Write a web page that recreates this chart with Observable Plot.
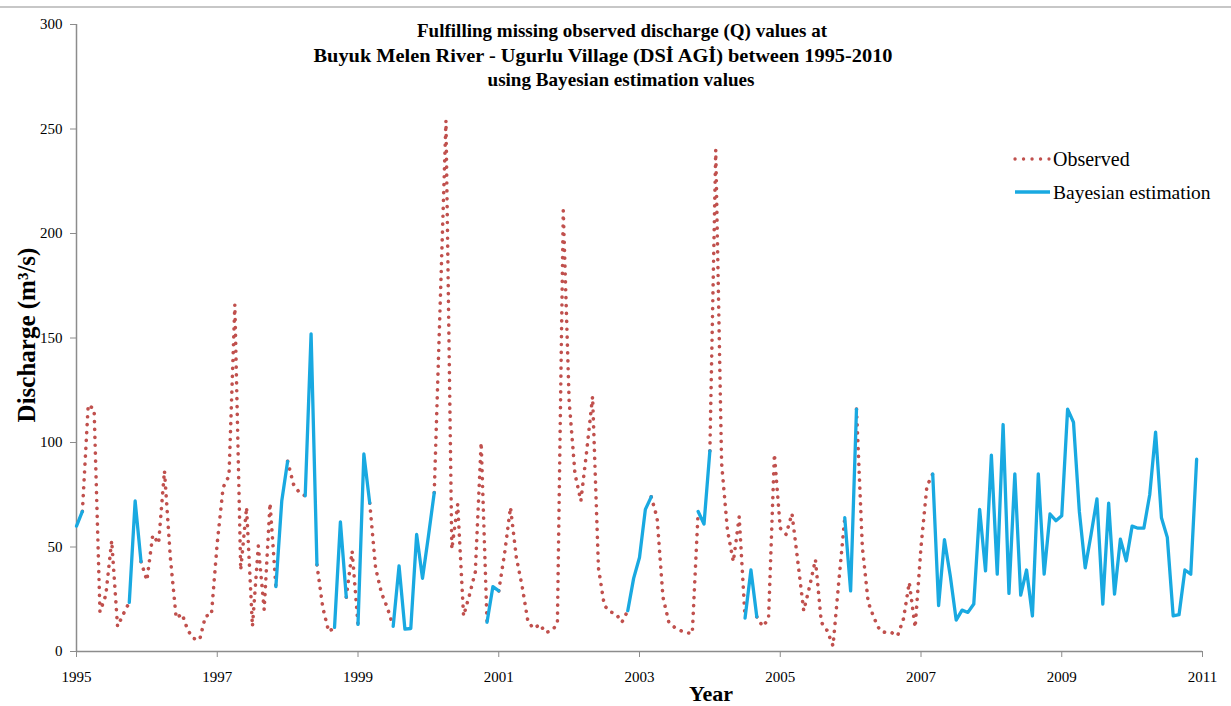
<!DOCTYPE html>
<html><head><meta charset="utf-8">
<script src="https://cdn.jsdelivr.net/npm/d3@7"></script>
<script src="https://cdn.jsdelivr.net/npm/@observablehq/plot@0.6"></script>
<style>
body{margin:0;background:#fff;}
#chart{position:relative;width:1231px;height:706px;}
</style></head><body><div id="chart"></div>
<script>
const startYear = 1995;
const yearTicks = [1995, 1997, 1999, 2001, 2003, 2005, 2007, 2009, 2011];
const qTicks = [0, 50, 100, 150, 200, 250, 300];
const titleLines = [
  "Fulfilling missing observed discharge (Q) values at",
  "Buyuk Melen River - Ugurlu Village (DSİ AGİ) between 1995-2010",
  "using Bayesian estimation values"
];
const seriesNames = ["Observed", "Bayesian estimation"];
const xTitle = "Year";
const yTitle = "Discharge (m³/s)";

// Monthly discharge, Jan 1995 .. Dec 2010 (null = not in this series)
const observed = [
  null, 67, 118, 116, 19, 27, 53, 12, 18, 23.5, null, 43,          // 1995
  34, 55.7, 51.7, 86.5, 45, 16, 18, 10, 6.2, 5.6, 17, 17.5,          // 1996
  52, 78.5, 84, 166, 39, 69, 12, 50.5, 20, 71, 31, null,             // 1997
  91, 80, 76, 74.5, null, 41.5, 21, 9.5, 11.5, null, 26, 48,         // 1998
  13, null, 71, 40, 28, 21, 12, null, null, null, null, null,        // 1999
  null, 76, 165, 254, 49, 70.5, 17, 27, 38, 100, 14, null,           // 2000
  29, 47, 69, 45, 31, 14, 11, 13, 9, 10, 13, 211,                    // 2001
  120, 85, 72, 96, 122, 40, 22, 19, 18, 14, 19.5, null,              // 2002
  null, null, 74, 64, 26, 14, 11.5, 10, 9, 8.6, 67, null,            // 2003
  96, 240, 90, 58, 43, 64.5, 16, null, 16.6, 12, 15.5, 94.5,         // 2004
  59, 56, 66, 43, 19.5, 31, 44, 14, 10, 2.7, 34, 64,                 // 2005
  null, 116, 50, 23.5, 16, 10, 9, 9, 7.5, 15.5, 33, 11.5,            // 2006
  50, 79, 85, null, null, null, null, null, null, null, null, null,  // 2007
  null, null, null, null, null, null, null, null, null, null, null, null, // 2008
  null, null, null, null, null, null, null, null, null, null, null, null, // 2009
  null, null, null, null, null, null, null, null, null, null, null, null  // 2010
];
const bayesian = [
  60, 67, null, null, null, null, null, null, null, 23.5, 72, 43,    // 1995
  null, null, null, null, null, null, null, null, null, null, null, null, // 1996
  null, null, null, null, null, null, null, null, null, null, 31, 72, // 1997
  91, null, null, 74.5, 152, 41.5, null, null, 11.5, 62, 26, null,  // 1998
  13, 94.5, 71, null, null, null, 12, 41, 10.7, 11, 56, 35,          // 1999
  55, 76, null, null, null, null, null, null, null, null, 14, 31,    // 2000
  29, null, null, null, null, null, null, null, null, null, null, null, // 2001
  null, null, null, null, null, null, null, null, null, null, 19.5, 35, // 2002
  45, 68, 74, null, null, null, null, null, null, null, 67, 61,      // 2003
  96, null, null, null, null, null, 16, 39, 16.6, null, null, null,  // 2004
  null, null, null, null, null, null, null, null, null, null, null, 64, // 2005
  29, 116, null, null, null, null, null, null, null, null, null, null, // 2006
  null, null, 85, 22, 53.5, 36, 15, 19.8, 18.7, 22.7, 68, 38.6,      // 2007
  94, 37, 108.6, 27.8, 85, 27, 39, 17, 85, 37, 65.8, 62.6,           // 2008
  65, 116, 109.7, 67, 40, 56, 73, 22.7, 71, 27.5, 53.8, 43.4,        // 2009
  60, 59, 59, 75, 105, 64, 54.6, 17, 17.6, 39, 37, 92                // 2010
];

const toRows = arr => arr.map((q, i) => ({t: startYear + i / 12, q}));
const obsColor = "#c0504d";
const bayColor = "#19a9e1";
const axisColor = "#8c8c8c";
const serif = "'Liberation Serif', 'Times New Roman', serif";

const svg = Plot.plot({
  width: 1231, height: 706,
  marginLeft: 76, marginRight: 29, marginTop: 24, marginBottom: 55,
  style: {fontFamily: serif, fontSize: "15px", background: "#fff", color: "#000"},
  x: {domain: [1995, 2011], label: null},
  y: {domain: [0, 300], label: null},
  marks: [
    Plot.ruleX([1995], {stroke: axisColor, strokeWidth: 1.5}),
    Plot.ruleY([0], {stroke: axisColor, strokeWidth: 1.5}),
    Plot.axisY(qTicks, {tickSize: 6, tickPadding: 8, stroke: axisColor, fill: "#000", fontSize: 15, label: null, tickFormat: d => String(d)}),
    Plot.axisX(yearTicks, {tickSize: 6, tickPadding: 14, stroke: axisColor, fill: "#000", fontSize: 15, label: null, tickFormat: d => String(d)}),
    Plot.line(toRows(observed), {x: "t", y: "q", stroke: obsColor, strokeWidth: 3.6, strokeDasharray: "0.1 7.8", strokeLinecap: "round", strokeLinejoin: "round"}),
    Plot.line(toRows(bayesian), {x: "t", y: "q", stroke: bayColor, strokeWidth: 3.3, strokeLinejoin: "round"})
  ]
});
document.getElementById("chart").appendChild(svg);

const s = d3.select(svg);
s.append("line").attr("x1", 0).attr("x2", 1231).attr("y1", 7).attr("y2", 7)
  .attr("stroke", "#b4b4b4").attr("stroke-width", 1.5);

const titleX = [622, 603, 621];
const titleY = [37, 62, 86];
const titleW = [410, 579, 267];
titleLines.forEach((t, i) => {
  s.append("text").text(t).attr("x", titleX[i]).attr("y", titleY[i])
    .attr("text-anchor", "middle").attr("font-family", serif)
    .attr("font-weight", "bold").attr("font-size", 19).attr("fill", "#000")
    .attr("textLength", titleW[i]).attr("lengthAdjust", "spacingAndGlyphs");
});

s.append("text").text(xTitle).attr("x", 711).attr("y", 701)
  .attr("text-anchor", "middle").attr("font-family", serif)
  .attr("font-weight", "bold").attr("font-size", 22).attr("fill", "#000");

s.append("text").text(yTitle).attr("transform", "translate(35,335) rotate(-90)")
  .attr("text-anchor", "middle").attr("font-family", serif)
  .attr("font-weight", "bold").attr("font-size", 25).attr("fill", "#000");

// legend
const lg = s.append("g");
lg.append("line").attr("x1", 1015).attr("x2", 1049).attr("y1", 159).attr("y2", 159)
  .attr("stroke", obsColor).attr("stroke-width", 3.3).attr("stroke-dasharray", "0.1 8.4").attr("stroke-linecap", "round");
lg.append("line").attr("x1", 1015).attr("x2", 1050).attr("y1", 192).attr("y2", 192)
  .attr("stroke", bayColor).attr("stroke-width", 3.3);
lg.append("text").text(seriesNames[0]).attr("x", 1053).attr("y", 166)
  .attr("text-anchor", "start")
  .attr("font-family", serif).attr("font-size", 20).attr("fill", "#000");
lg.append("text").text(seriesNames[1]).attr("x", 1053).attr("y", 199)
  .attr("text-anchor", "start")
  .attr("font-family", serif).attr("font-size", 19.5).attr("fill", "#000");
</script></body></html>
